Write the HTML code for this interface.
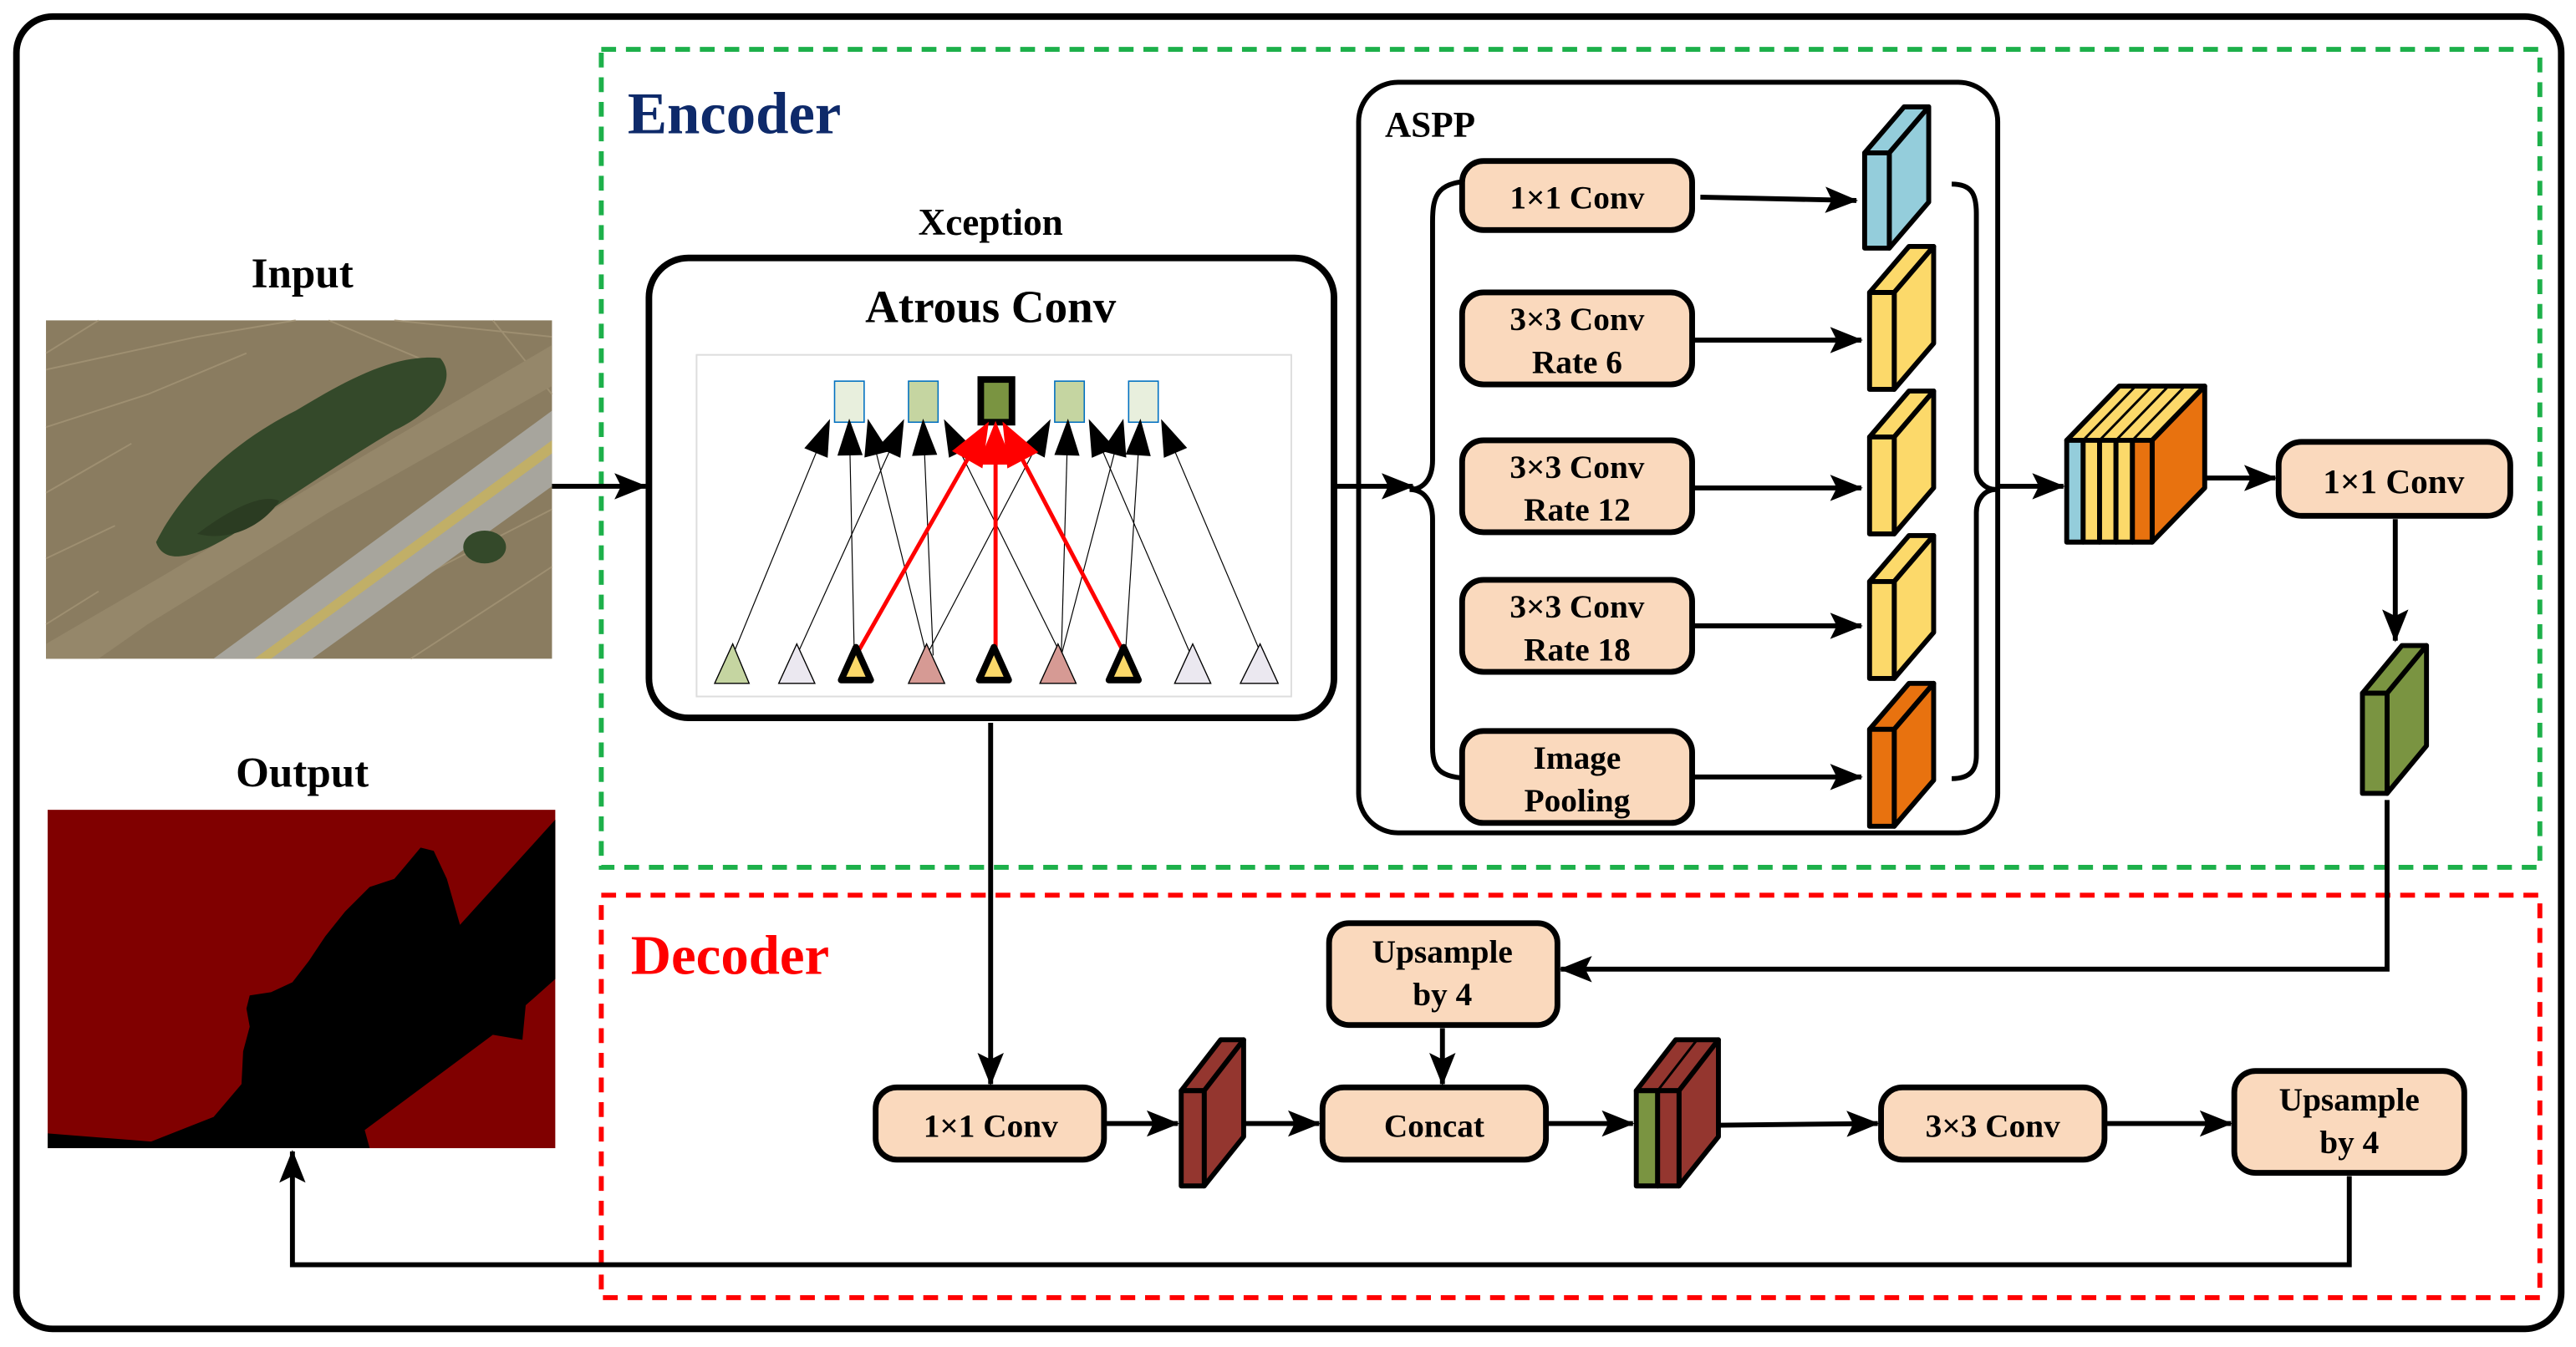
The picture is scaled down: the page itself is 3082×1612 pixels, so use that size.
<!DOCTYPE html>
<html><head><meta charset="utf-8"><style>
html,body{margin:0;padding:0;background:#fff}
svg{display:block}
text{font-family:"Liberation Serif",serif;font-weight:bold}
</style></head><body>
<svg width="3082" height="1612" viewBox="0 0 1568 820" xmlns="http://www.w3.org/2000/svg">
<defs>
<marker id="a" viewBox="0 0 20 16" refX="19" refY="8" markerWidth="20" markerHeight="16" markerUnits="userSpaceOnUse" orient="auto">
<path d="M0,0 L20,8 L0,16 L4,8 Z" fill="#000"/></marker>
<marker id="s" viewBox="0 0 10 10" refX="9" refY="5" markerWidth="32" markerHeight="32" markerUnits="userSpaceOnUse" orient="auto">
<path d="M3,2.6 L10,5 L3,7.4 Z" fill="#000"/></marker>
<marker id="r" viewBox="0 0 10 10" refX="9" refY="5" markerWidth="38" markerHeight="38" markerUnits="userSpaceOnUse" orient="auto">
<path d="M3,2.2 L10,5 L3,7.8 Z" fill="#f00"/></marker>
</defs>

<rect x="10" y="10" width="1549" height="799" rx="22" fill="none" stroke="#000" stroke-width="4"/>
<rect x="366" y="30" width="1180" height="498" fill="none" stroke="#1db04a" stroke-width="3" stroke-dasharray="9,6"/>
<rect x="366" y="545" width="1180" height="245" fill="none" stroke="#f00" stroke-width="3" stroke-dasharray="9,6"/>

<text x="382" y="81" font-size="36" fill="#0e2a6a">Encoder</text>
<text x="384" y="593" font-size="34" fill="#f00">Decoder</text>

<text x="184" y="175" font-size="26" text-anchor="middle">Input</text>
<text x="184" y="479" font-size="26" text-anchor="middle">Output</text>

<rect x="28" y="195" width="308" height="206" fill="#8a7c60"/>
<g stroke="#a39476" stroke-width="1" fill="none" opacity="0.8">
<path d="M28,225 L120,205 L180,195 M28,260 L90,240 L150,215 M28,300 L80,270 M28,340 L70,320 M60,195 L28,215 M200,380 L336,310 M250,401 L336,345 M240,195 L336,205 M300,195 L336,240 M200,195 L260,220 M28,380 L60,360"/></g>
<path d="M28,401 L28,392 L100,350 L200,290 L336,210 L336,235 L200,312 L90,380 L60,401 Z" fill="#95876a"/>
<path d="M130,401 L336,250 L336,296 L190,401 Z" fill="#a7a59d"/>
<path d="M155,401 L336,268 L336,276 L165,401 Z" fill="#c8b25a" opacity="0.8"/>
<path d="M95,330 C110,300 140,270 180,250 C210,232 240,215 268,218 C280,232 262,252 240,262 C210,280 180,300 150,320 C120,340 100,345 95,330 Z" fill="#34492a"/>
<path d="M120,325 C140,310 160,300 170,305 C160,320 140,330 120,325 Z" fill="#2b3c22"/>
<ellipse cx="295" cy="333" rx="13" ry="10" fill="#34492a"/>

<rect x="29" y="493" width="309" height="206" fill="#800000"/>
<path d="M338,499 L280,563 L272,535 L264,518 L256,516 L246,528 L240,535 L225,540 L210,555 L198,570 L188,585 L178,598 L165,604 L152,606 L150,614 L152,625 L148,640 L147,660 L130,680 L92,695 L29,690 L29,699 L225,699 L222,688 L300,630 L318,633 L320,612 L338,596 Z" fill="#000"/>

<text x="603" y="143" font-size="23" text-anchor="middle">Xception</text>
<rect x="395" y="157" width="417" height="280" rx="24" fill="#fff" stroke="#000" stroke-width="4"/>
<text x="603" y="196" font-size="28" text-anchor="middle">Atrous Conv</text>
<rect x="424" y="216" width="362" height="208" fill="#fff" stroke="#ddd" stroke-width="1"/>
<g stroke="#0070c0" stroke-width="0.8">
<rect x="508" y="232" width="18" height="25" fill="#e8efdd"/>
<rect x="553" y="232" width="18" height="25" fill="#c5d5a1"/>
<rect x="642" y="232" width="18" height="25" fill="#c5d5a1"/>
<rect x="687" y="232" width="18" height="25" fill="#e8efdd"/>
</g>
<rect x="597" y="231" width="19" height="26" fill="#7a9441" stroke="#000" stroke-width="4"/>
<g stroke="#000" stroke-width="0.6" fill="none" marker-end="url(#s)">
<path d="M446,399 L504,258"/><path d="M520,399 L517,258"/><path d="M564,399 L529,258"/>
<path d="M485,399 L549,258"/><path d="M568,399 L562,258"/><path d="M646,399 L576,258"/>
<path d="M564,399 L638,258"/><path d="M646,399 L650,258"/><path d="M725,399 L664,258"/>
<path d="M646,399 L683,258"/><path d="M685,399 L694,258"/><path d="M768,399 L708,258"/>
</g>
<g stroke="#f00" stroke-width="2.5" fill="none" marker-end="url(#r)">
<path d="M521,399 L600,260"/><path d="M606,399 L606,260"/><path d="M685,399 L612,260"/>
</g>
<g stroke="#000" stroke-width="0.7">
<path d="M435,416 L446,392 L456,416 Z" fill="#c5d5a1"/>
<path d="M474,416 L485,392 L496,416 Z" fill="#ebe8f0"/>
<path d="M553,416 L564,392 L575,416 Z" fill="#d69a94"/>
<path d="M633,416 L644,392 L655,416 Z" fill="#d69a94"/>
<path d="M715,416 L726,392 L737,416 Z" fill="#ebe8f0"/>
<path d="M755,416 L767,392 L778,416 Z" fill="#ebe8f0"/>
</g>
<g stroke="#000" stroke-width="4" stroke-linejoin="round" fill="#fbd869">
<path d="M512,414 L521,394 L530,414 Z"/><path d="M596,414 L605,394 L614,414 Z"/><path d="M675,414 L684,394 L693,414 Z"/>
</g>

<rect x="827" y="50" width="389" height="457" rx="24" fill="none" stroke="#000" stroke-width="3"/>
<text x="843" y="83" font-size="22">ASPP</text>
<path d="M900,110 C875,110 872,118 872,135 L872,280 C872,292 866,298 858,298 C866,298 872,304 872,316 L872,455 C872,470 878,474 900,474" fill="none" stroke="#000" stroke-width="3"/>
<path d="M1188,112 C1200,112 1203,118 1203,130 L1203,286 C1203,292 1208,298 1215,298 C1208,298 1203,304 1203,312 L1203,460 C1203,468 1200,474 1188,474" fill="none" stroke="#000" stroke-width="3"/>
<g fill="#fad9bd" stroke="#000" stroke-width="3.5">
<rect x="890" y="98" width="140" height="42" rx="13"/>
<rect x="890" y="178" width="140" height="56" rx="13"/>
<rect x="890" y="268" width="140" height="56" rx="13"/>
<rect x="890" y="353" width="140" height="56" rx="13"/>
<rect x="890" y="445" width="140" height="56" rx="13"/>
</g>
<g font-size="20" text-anchor="middle">
<text x="960" y="127">1×1 Conv</text>
<text x="960" y="201">3×3 Conv</text><text x="960" y="227">Rate 6</text>
<text x="960" y="291">3×3 Conv</text><text x="960" y="317">Rate 12</text>
<text x="960" y="376">3×3 Conv</text><text x="960" y="402">Rate 18</text>
<text x="960" y="468">Image</text><text x="960" y="494">Pooling</text>
</g>
<g stroke="#000" stroke-width="3" marker-end="url(#a)">
<path d="M1035,120 L1130,122"/><path d="M1030,207 L1133,207"/><path d="M1030,297 L1133,297"/>
<path d="M1030,381 L1133,381"/><path d="M1030,473 L1133,473"/>
</g>

<g stroke="#000" stroke-width="3" stroke-linejoin="round">
<path d="M1135,93 L1159,65 L1174,65 L1150,93 Z" fill="#94cddb"/><path d="M1150,93 L1174,65 L1174,123 L1150,151 Z" fill="#94cddb"/><rect x="1135" y="93" width="15" height="58" fill="#94cddb"/>
<path d="M1138,178 L1162,150 L1177,150 L1153,178 Z" fill="#fcd96a"/><path d="M1153,178 L1177,150 L1177,209 L1153,237 Z" fill="#fcd96a"/><rect x="1138" y="178" width="15" height="59" fill="#fcd96a"/>
<path d="M1138,266 L1162,238 L1177,238 L1153,266 Z" fill="#fcd96a"/><path d="M1153,266 L1177,238 L1177,297 L1153,325 Z" fill="#fcd96a"/><rect x="1138" y="266" width="15" height="59" fill="#fcd96a"/>
<path d="M1138,354 L1162,326 L1177,326 L1153,354 Z" fill="#fcd96a"/><path d="M1153,354 L1177,326 L1177,385 L1153,413 Z" fill="#fcd96a"/><rect x="1138" y="354" width="15" height="59" fill="#fcd96a"/>
<path d="M1138,444 L1162,416 L1177,416 L1153,444 Z" fill="#e8720f"/><path d="M1153,444 L1177,416 L1177,475 L1153,503 Z" fill="#e8720f"/><rect x="1138" y="444" width="15" height="59" fill="#e8720f"/>
<path d="M1258,268 L1290,235 L1342,235 L1310,268 Z" fill="#fcd96a"/>
<path d="M1310,268 L1342,235 L1342,297 L1310,330 Z" fill="#e8720f"/>
<rect x="1258" y="268" width="10" height="62" fill="#94cddb"/>
<rect x="1268" y="268" width="10" height="62" fill="#fcd96a"/>
<rect x="1278" y="268" width="10" height="62" fill="#fcd96a"/>
<rect x="1288" y="268" width="10" height="62" fill="#fcd96a"/>
<rect x="1298" y="268" width="12" height="62" fill="#e8720f"/>
<path d="M1438,422 L1462,393 L1477,393 L1453,422 Z" fill="#7a9441"/><path d="M1453,422 L1477,393 L1477,454 L1453,483 Z" fill="#7a9441"/><rect x="1438" y="422" width="15" height="61" fill="#7a9441"/>
<path d="M719,664 L743,633 L757,633 L733,664 Z" fill="#94362f"/><path d="M733,664 L757,633 L757,692 L733,722 Z" fill="#94362f"/><rect x="719" y="664" width="14" height="58" fill="#94362f"/>
<path d="M996,664 L1020,633 L1046,633 L1022,664 Z" fill="#94362f"/><path d="M1022,664 L1046,633 L1046,692 L1022,722 Z" fill="#94362f"/>
<rect x="996" y="664" width="13" height="58" fill="#7a9441"/><rect x="1009" y="664" width="13" height="58" fill="#94362f"/>
</g>
<g stroke="#000" stroke-width="1.5" fill="none"><path d="M1268,268 L1300,235 M1278,268 L1310,235 M1288,268 L1320,235 M1298,268 L1330,235 M1009,664 L1033,633"/></g>

<rect x="1387" y="269" width="141" height="45" rx="14" fill="#fad9bd" stroke="#000" stroke-width="3.5"/>
<text x="1457" y="300" font-size="21" text-anchor="middle">1×1 Conv</text>

<g fill="#fad9bd" stroke="#000" stroke-width="3.5">
<rect x="809" y="562" width="139" height="62" rx="12"/>
<rect x="533" y="662" width="139" height="44" rx="13"/>
<rect x="805" y="662" width="136" height="44" rx="13"/>
<rect x="1145" y="662" width="136" height="44" rx="13"/>
<rect x="1360" y="652" width="140" height="62" rx="13"/>
</g>
<g font-size="20" text-anchor="middle">
<text x="878" y="586">Upsample</text><text x="878" y="612">by 4</text>
<text x="603" y="692">1×1 Conv</text>
<text x="873" y="692">Concat</text>
<text x="1213" y="692">3×3 Conv</text>
<text x="1430" y="676">Upsample</text><text x="1430" y="702">by 4</text>
</g>

<g stroke="#000" stroke-width="3" fill="none" marker-end="url(#a)">
<path d="M336,296 L393,296"/>
<path d="M813,296 L860,296"/>
<path d="M1215,296 L1256,296"/>
<path d="M1343,291 L1385,291"/>
<path d="M1458,316 L1458,390"/>
<path d="M1453,487 L1453,590 L950,590"/>
<path d="M878,626 L878,660"/>
<path d="M603,440 L603,660"/>
<path d="M672,684 L717,684"/>
<path d="M758,684 L803,684"/>
<path d="M941,684 L994,684"/>
<path d="M1047,685 L1143,684"/>
<path d="M1281,684 L1358,684"/>
<path d="M1430,716 L1430,770 L178,770 L178,701"/>
</g>
</svg>
</body></html>
